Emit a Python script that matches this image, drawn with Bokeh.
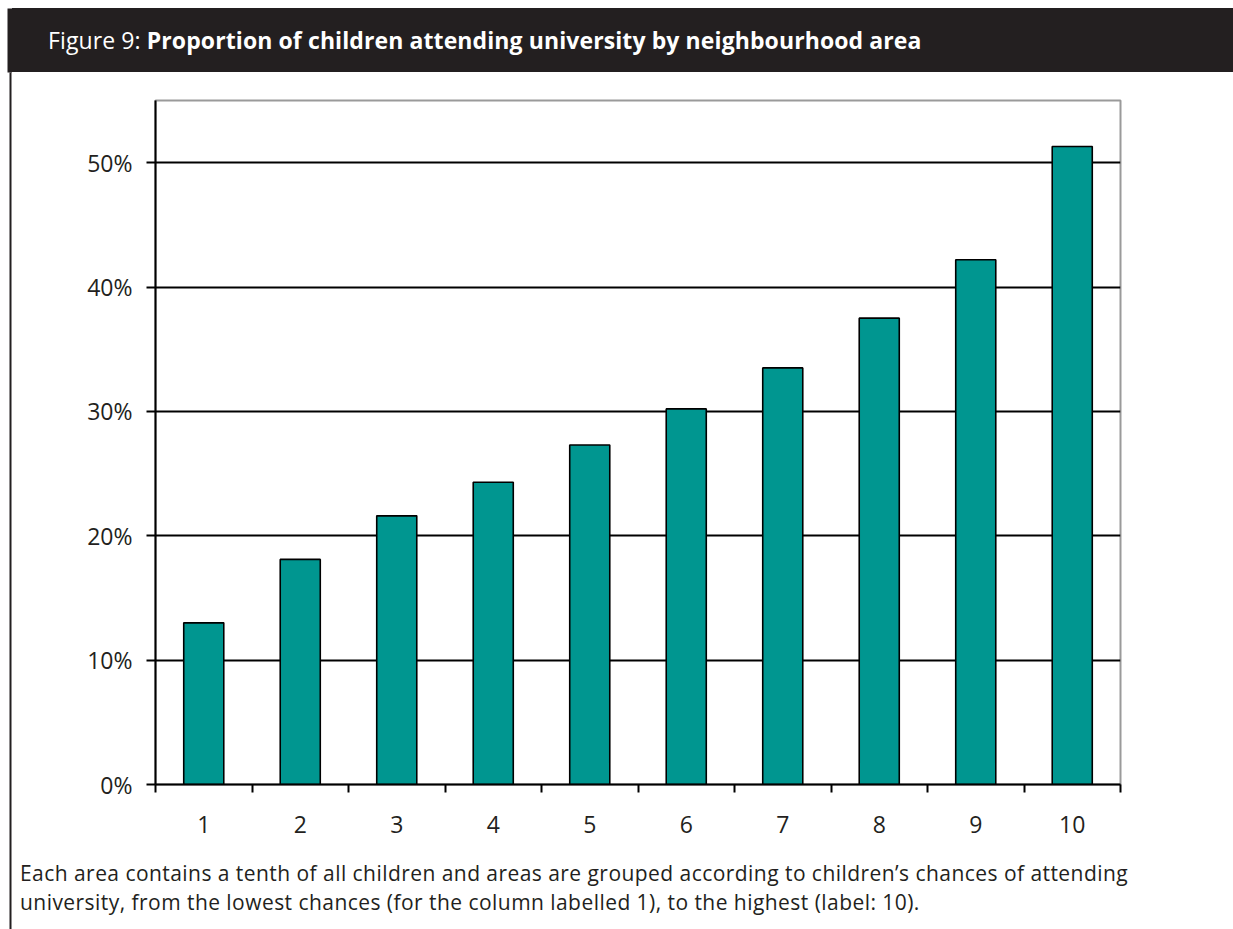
from bokeh.plotting import figure
from bokeh.layouts import column, row
from bokeh.models import Range1d, FixedTicker, PrintfTickFormatter, Div
from bokeh.embed import file_html
from bokeh.resources import INLINE

# ---- data ----
categories = ["1", "2", "3", "4", "5", "6", "7", "8", "9", "10"]
values = [13.0, 18.1, 21.6, 24.3, 27.3, 30.2, 33.5, 37.5, 42.2, 51.3]
y_ticks = [0, 10, 20, 30, 40, 50]
title_lead = "Figure 9:"
title_main = "Proportion of children attending university by neighbourhood area"
caption_lines = [
    "Each area contains a tenth of all children and areas are grouped according to children\u2019s chances of attending",
    "university, from the lowest chances (for the column labelled 1), to the highest (label: 10).",
]

FONT = "Open Sans"
INK = "#231f20"
PAGE_W, PAGE_H = 1233, 929
STRIP_W = 12
MAIN_W = PAGE_W - STRIP_W
HEAD_H = 80
CAP_H = 79
PLOT_H = PAGE_H - HEAD_H - CAP_H
HDR_TOP, HDR_BOT = 8, 72

# left strip: header edge + vertical rule
strip = figure(width=STRIP_W, height=PAGE_H, output_backend="svg", toolbar_location=None,
               x_range=Range1d(0, STRIP_W), y_range=Range1d(PAGE_H, 0),
               x_axis_type=None, y_axis_type=None, min_border=0)
strip.outline_line_color = None
strip.grid.visible = False
strip.quad(left=[7, 9], right=[STRIP_W, 11], top=[HDR_TOP, HDR_BOT], bottom=[HDR_BOT, PAGE_H],
           fill_color=INK, line_color=None)

# header
head_html = (
    f'<div style="box-sizing:border-box;width:{MAIN_W}px;height:{HDR_BOT - HDR_TOP}px;'
    f'margin-top:{HDR_TOP}px;background:{INK};color:#ffffff;font-family:\'{FONT}\',sans-serif;'
    f'font-size:23px;line-height:{HDR_BOT - HDR_TOP}px;padding-left:{48 - STRIP_W}px;'
    f'letter-spacing:0.1px;white-space:nowrap;">{title_lead} <b>{title_main}</b></div>'
)
head = Div(text=head_html, width=MAIN_W, height=HEAD_H, margin=0)

# main chart
FL, FR = 155 - STRIP_W, 1120 - STRIP_W
FT, FB = 100 - HEAD_H, 784 - HEAD_H
p = figure(width=MAIN_W, height=PLOT_H, output_backend="svg", toolbar_location=None,
           x_range=Range1d(0, len(categories)), y_range=Range1d(0, 55),
           min_border_left=FL, min_border_right=MAIN_W - FR,
           min_border_top=FT, min_border_bottom=PLOT_H - FB)
p.background_fill_color = "white"
p.border_fill_color = "white"
p.outline_line_color = "#9a9a9a"
p.outline_line_width = 2

xs = [i + 0.5 for i in range(len(categories))]
p.vbar(x=xs, top=values, width=0.415, bottom=0,
       fill_color="#009690", line_color="black", line_width=1.6)

ya = p.yaxis[0]
ya.ticker = FixedTicker(ticks=y_ticks)
ya.formatter = PrintfTickFormatter(format="%d%%")
ya.axis_line_color = "black"
ya.axis_line_width = 2
ya.major_tick_line_color = "black"
ya.major_tick_line_width = 2
ya.major_tick_out = 9
ya.major_tick_in = 0
ya.minor_tick_line_color = None
ya.major_label_text_font = FONT
ya.major_label_text_font_size = "23px"
ya.major_label_text_color = INK
ya.major_label_standoff = 14

xa = p.xaxis[0]
xa.ticker = FixedTicker(ticks=xs, minor_ticks=list(range(len(categories) + 1)))
xa.major_label_overrides = {x: c for x, c in zip(xs, categories)}
xa.axis_line_color = "black"
xa.axis_line_width = 2
xa.major_tick_line_color = None
xa.major_tick_out = 0
xa.major_tick_in = 0
xa.minor_tick_line_color = "black"
xa.minor_tick_line_width = 2
xa.minor_tick_out = 8
xa.minor_tick_in = 0
xa.major_label_text_font = FONT
xa.major_label_text_font_size = "23px"
xa.major_label_text_color = INK
xa.major_label_standoff = 23

p.xgrid.visible = False
p.ygrid.ticker = FixedTicker(ticks=y_ticks[1:])
p.ygrid.grid_line_color = "black"
p.ygrid.grid_line_width = 2

# caption
cap_html = (
    f'<div style="box-sizing:border-box;width:{MAIN_W}px;padding-top:9px;'
    f'padding-left:{20 - STRIP_W}px;font-family:\'{FONT}\',sans-serif;font-size:21px;'
    f'letter-spacing:0.45px;line-height:29px;color:{INK};white-space:nowrap;">'
    + "<br>".join(caption_lines) + "</div>"
)
cap = Div(text=cap_html, width=MAIN_W, height=CAP_H, margin=0)

layout = row(strip, column(head, p, cap, spacing=0), spacing=0)
open("out.html", "w").write(file_html(layout, INLINE))
